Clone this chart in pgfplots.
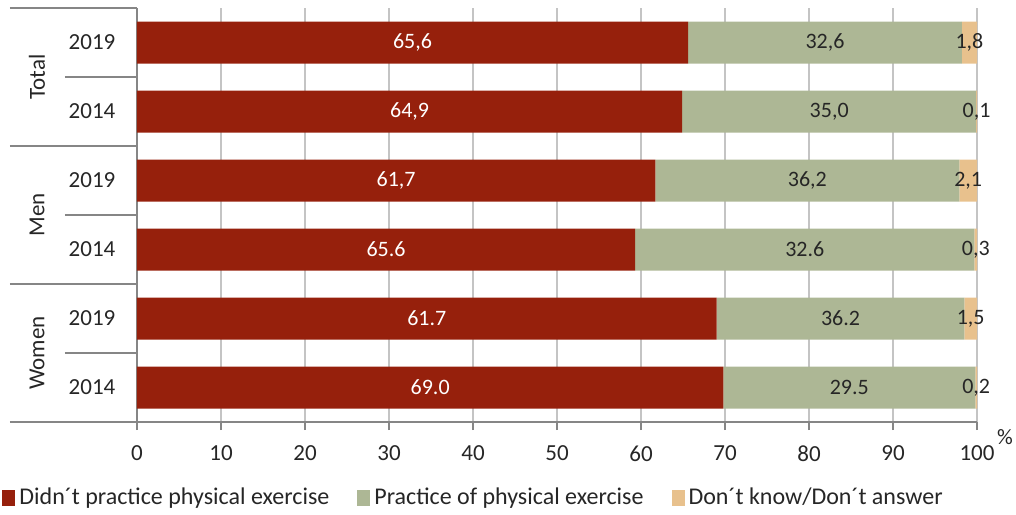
\documentclass[border=0pt]{standalone}
\usepackage{pgfplots}
\pgfplotsset{compat=1.18}
\usepackage{pgfplotstable}
\usepackage{fontspec}
\setmainfont{Carlito}
\definecolor{cred}{RGB}{150,32,12}
\definecolor{cgreen}{RGB}{173,183,149}
\definecolor{corange}{RGB}{232,193,141}
\definecolor{cgrid}{RGB}{196,196,196}
\definecolor{caxis}{RGB}{134,134,134}
\definecolor{ctext}{RGB}{38,38,38}

\pgfplotstableread{
y a b c la lb lc
5 65.6 32.6 1.8 65,6 32,6 1,8
4 64.9 35.0 0.1 64,9 35,0 0,1
3 61.7 36.2 2.1 61,7 36,2 2,1
2 59.3 40.4 0.3 65.6 32.6 0,3
1 69.0 29.5 1.5 61.7 36.2 1,5
0 69.8 30.0 0.2 69.0 29.5 0,2
}\data

\begin{document}
\begin{tikzpicture}[font=\fontsize{11}{13}\selectfont]
\begin{axis}[
  scale only axis, width=420pt, height=207pt,
  xbar stacked, bar width=21pt,
  xmin=0, xmax=100, ymin=-0.5, ymax=5.5,
  axis x line*=bottom, axis y line*=left,
  axis line style={caxis, line width=0.8pt, -},
  xtick={0,10,...,100},
  xmajorgrids, grid style={cgrid, line width=0.8pt},
  tick align=outside, major tick length=4pt,
  xtick style={caxis, line width=0.8pt},
  ytick={0,...,5}, yticklabels={2014,2019,2014,2019,2014,2019},
  ytick style={draw=none},
  yticklabel style={anchor=center, xshift=-18.5pt, text=ctext, font=\fontsize{11.5}{13}\selectfont},
  xticklabel style={yshift=-4.5pt, text=ctext, font=\fontsize{11.5}{13}\selectfont},
  /pgf/number format/assume math mode=true,
  clip=false,
  legend style={at={(-0.1607,-0.1836)}, anchor=west, draw=none, fill=none,
    legend columns=-1, inner sep=0pt, font=\fontsize{12}{14}\selectfont,
    /tikz/every even column/.append style={column sep=12pt},
    text=ctext},
  legend image code/.code={\draw[#1,draw=none] (0pt,-4pt) rectangle (6.5pt,4pt);},
]
\addplot[fill=cred, draw=none] table[x=a, y=y] {\data};
\addplot[fill=cgreen, draw=none] table[x=b, y=y] {\data};
\addplot[fill=corange, draw=none] table[x=c, y=y] {\data};
\legend{Didn´t practice physical exercise, Practice of physical exercise, Don´t know/Don´t answer}

\draw[caxis, line width=0.8pt] ([xshift=-63.5pt]axis cs:0,5.5) -- (axis cs:0,5.5);
\draw[caxis, line width=0.8pt] ([xshift=-63.5pt]axis cs:0,3.5) -- (axis cs:0,3.5);
\draw[caxis, line width=0.8pt] ([xshift=-63.5pt]axis cs:0,1.5) -- (axis cs:0,1.5);
\draw[caxis, line width=0.8pt] ([xshift=-63.5pt]axis cs:0,-0.5) -- (axis cs:0,-0.5);
\draw[caxis, line width=0.8pt] ([xshift=-36pt]axis cs:0,4.5) -- (axis cs:0,4.5);
\draw[caxis, line width=0.8pt] ([xshift=-36pt]axis cs:0,2.5) -- (axis cs:0,2.5);
\draw[caxis, line width=0.8pt] ([xshift=-36pt]axis cs:0,0.5) -- (axis cs:0,0.5);
\node[rotate=90, text=ctext, font=\fontsize{11.5}{13}\selectfont] at ([xshift=-50pt]axis cs:0,4.5) {Total};
\node[rotate=90, text=ctext, font=\fontsize{11.5}{13}\selectfont] at ([xshift=-50pt]axis cs:0,2.5) {Men};
\node[rotate=90, text=ctext, font=\fontsize{11.5}{13}\selectfont] at ([xshift=-50pt]axis cs:0,0.5) {Women};
\node[text=ctext] at ([xshift=14pt, yshift=-7.5pt]axis cs:100,-0.5) {\%};
\end{axis}
\begin{axis}[
  scale only axis, width=420pt, height=207pt,
  xmin=0, xmax=100, ymin=-0.5, ymax=5.5,
  hide axis, clip=false,
  nodes near coords, point meta=explicit symbolic,
  every node near coord/.append style={anchor=center, font=\fontsize{11}{13}\selectfont},
]
\addplot[draw=none, mark=none, nodes near coords style={text=white}]
  table[x expr=\thisrow{a}/2, y=y, meta=la] {\data};
\addplot[draw=none, mark=none, nodes near coords style={text=ctext}]
  table[x expr=\thisrow{a}+\thisrow{b}/2, y=y, meta=lb] {\data};
\addplot[draw=none, mark=none, nodes near coords style={text=ctext}]
  table[x expr=\thisrow{a}+\thisrow{b}+\thisrow{c}/2, y=y, meta=lc] {\data};
\end{axis}
\pgfresetboundingbox
\path[use as bounding box] (-68.5pt,-46pt) rectangle (439.5pt,211pt);
\end{tikzpicture}
\end{document}
